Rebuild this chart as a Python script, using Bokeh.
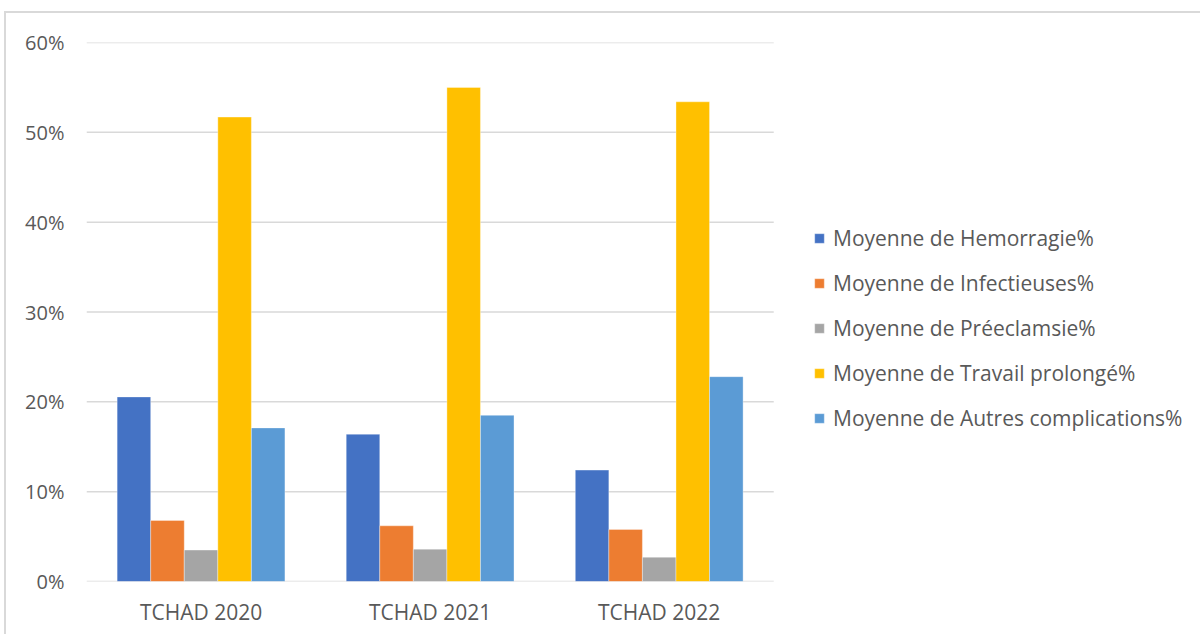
from bokeh.plotting import figure
from bokeh.models import Range1d, Legend, LegendItem, NumeralTickFormatter, FixedTicker
from bokeh.transform import dodge
from bokeh.embed import file_html
from bokeh.resources import INLINE

categories = ["TCHAD 2020", "TCHAD 2021", "TCHAD 2022"]
series_names = [
    "Moyenne de Hemorragie%",
    "Moyenne de Infectieuses%",
    "Moyenne de Préeclamsie%",
    "Moyenne de Travail prolongé%",
    "Moyenne de Autres complications%",
]
hemorragie = [0.2055, 0.164, 0.124]
infectieuses = [0.068, 0.062, 0.058]
preeclamsie = [0.035, 0.036, 0.027]
travail = [0.517, 0.550, 0.534]
autres = [0.171, 0.185, 0.228]
colors = ["#4472C4", "#ED7D31", "#A5A5A5", "#FFC000", "#5B9BD5"]
y_ticks = [0, 0.1, 0.2, 0.3, 0.4, 0.5, 0.6]

FONT = "Open Sans"
TXT = "#595959"

n = len(categories)
xpos = [i + 0.5 for i in range(n)]
data = dict(x=xpos, s0=hemorragie, s1=infectieuses, s2=preeclamsie, s3=travail, s4=autres)

# plot frame spans the chart and the legend area; category area is 686 px of 1114 px
frame_w = 1114
cat_area_w = 686
p = figure(
    x_range=Range1d(0, n * frame_w / cat_area_w),
    y_range=Range1d(0, 0.6),
    width=1196, height=623,
    output_backend="svg", toolbar_location=None,
    min_border_left=80, min_border_right=0, min_border_top=29, min_border_bottom=55,
)
p.styles = {"border-top": "2px solid #d9d9d9", "border-left": "2px solid #d9d9d9",
            "margin-left": "4px", "margin-top": "11px"}

# horizontal gridlines limited to the category area
p.segment(x0=[0] * len(y_ticks), x1=[n] * len(y_ticks), y0=y_ticks, y1=y_ticks,
          line_color="#d9d9d9", line_width=1.5)

bw = 0.1465
renderers = []
for i, key in enumerate(["s0", "s1", "s2", "s3", "s4"]):
    r = p.vbar(x=dodge("x", (i - 2) * bw), top=key, width=bw,
               bottom=0, source=data, fill_color=colors[i],
               line_color="white", line_alpha=0.35, line_width=1)
    renderers.append(r)

p.outline_line_color = None
p.xgrid.grid_line_color = None
p.ygrid.grid_line_color = None
p.yaxis.ticker = FixedTicker(ticks=y_ticks)
p.yaxis.formatter = NumeralTickFormatter(format="0%")
p.xaxis.ticker = FixedTicker(ticks=xpos)
p.xaxis.major_label_overrides = {x: c for x, c in zip(xpos, categories)}
for ax in (p.xaxis[0], p.yaxis[0]):
    ax.axis_line_color = None
    ax.major_tick_line_color = None
    ax.minor_tick_line_color = None
    ax.major_label_text_font = FONT
    ax.major_label_text_color = TXT
p.yaxis.major_label_text_font_size = "20px"
p.xaxis.major_label_text_font_size = "21px"
p.yaxis.major_label_standoff = 16
p.xaxis.major_label_standoff = 10

legend = Legend(
    items=[LegendItem(label=series_names[i], renderers=[renderers[i]]) for i in range(5)],
    location=(727, 149),
    orientation="vertical",
    glyph_width=12, glyph_height=12,
    label_height=29, spacing=16, label_standoff=8,
    padding=0, margin=0,
    border_line_color=None, background_fill_alpha=0,
    label_text_font=FONT, label_text_font_size="21px", label_text_color=TXT,
)
p.add_layout(legend)

open("out.html", "w").write(file_html(p, INLINE))
